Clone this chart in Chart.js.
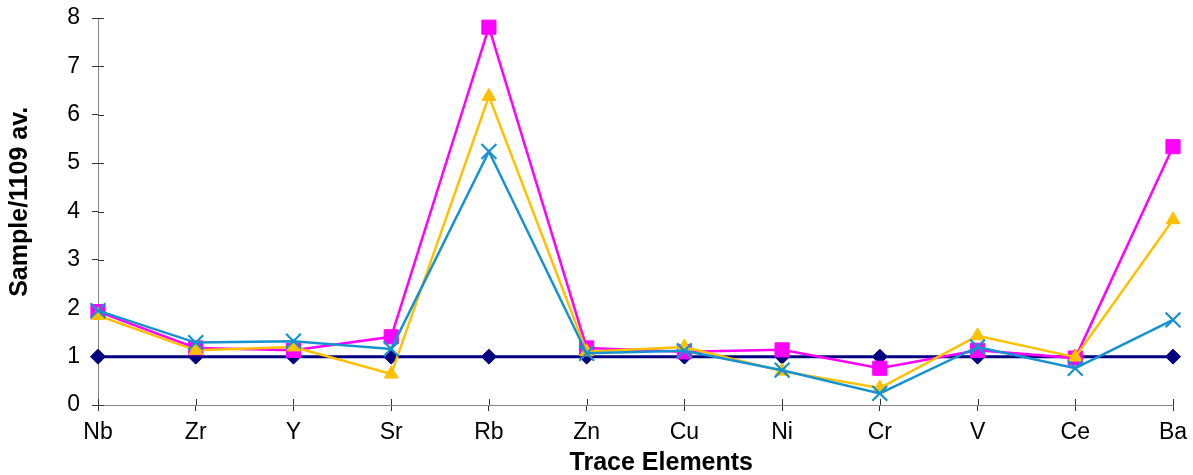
<!DOCTYPE html>
<html>
<head>
<meta charset="utf-8">
<style>
  html, body { margin: 0; padding: 0; background: #fff; }
  #wrap { width: 1193px; height: 475px; }
</style>
<script src="https://cdn.jsdelivr.net/npm/chart.js@4/dist/chart.umd.min.js"></script>
</head>
<body>
<div id="wrap"><canvas id="c" width="1193" height="475"></canvas></div>
<script>
// Trace elements on the category axis
const elements = ['Nb', 'Zr', 'Y', 'Sr', 'Rb', 'Zn', 'Cu', 'Ni', 'Cr', 'V', 'Ce', 'Ba'];

// Normalised concentrations (sample / 1109 average)
const reference1109 = [1, 1, 1, 1, 1, 1, 1, 1, 1, 1, 1, 1];
const sampleA = [1.93, 1.18, 1.13, 1.41, 7.81, 1.18, 1.1, 1.14, 0.76, 1.13, 0.97, 5.34];
const sampleB = [1.85, 1.13, 1.2, 0.64, 6.38, 1.1, 1.2, 0.7, 0.35, 1.43, 0.99, 3.83];
const sampleC = [1.95, 1.29, 1.32, 1.16, 5.24, 1.07, 1.12, 0.72, 0.24, 1.2, 0.76, 1.76];

const yTicks = [0, 1, 2, 3, 4, 5, 6, 7, 8];

const xTitle = 'Trace Elements';
const yTitle = 'Sample/1109 av.';

const FONT = "'Liberation Sans', Arial, sans-serif";

// Tick marks that cross the axis line: Chart.js draws the outer half,
// this draws the half that reaches into the plot area.
const innerTicks = {
  id: 'innerTicks',
  beforeDatasetsDraw(chart) {
    const { ctx, chartArea, scales } = chart;
    const len = 6;
    ctx.save();
    ctx.strokeStyle = '#333';
    ctx.lineWidth = 1;
    ctx.beginPath();
    scales.x.ticks.forEach((t, i) => {
      const px = Math.round(scales.x.getPixelForTick(i)) + 0.5;
      ctx.moveTo(px, chartArea.bottom);
      ctx.lineTo(px, chartArea.bottom - len);
    });
    scales.y.ticks.forEach((t, i) => {
      const py = Math.round(scales.y.getPixelForTick(i)) + 0.5;
      ctx.moveTo(chartArea.left, py);
      ctx.lineTo(chartArea.left + len, py);
    });
    ctx.stroke();
    ctx.restore();
  }
};

// Axis titles, placed a little off the plot centre
const axisTitles = {
  id: 'axisTitles',
  afterDraw(chart) {
    const { ctx, chartArea } = chart;
    ctx.save();
    ctx.fillStyle = '#000';
    ctx.font = 'bold 25px ' + FONT;
    ctx.textAlign = 'center';
    ctx.textBaseline = 'middle';
    const w = chartArea.right - chartArea.left;
    const h = chartArea.bottom - chartArea.top;
    ctx.fillText(xTitle, chartArea.left + w * 0.524, chart.height - 12);
    ctx.translate(20, chartArea.top + h * 0.475);
    ctx.rotate(-Math.PI / 2);
    ctx.fillText(yTitle, 0, 0);
    ctx.restore();
  }
};

function series(data, color, style, radius, order, width) {
  return {
    data,
    borderColor: color,
    backgroundColor: color,
    pointBackgroundColor: color,
    pointBorderColor: color,
    pointStyle: style,
    pointRadius: radius,
    pointHoverRadius: radius,
    pointBorderWidth: style === 'crossRot' ? 2.2 : 1,
    borderWidth: width,
    tension: 0,
    fill: false,
    order
  };
}

new Chart(document.getElementById('c'), {
  type: 'line',
  data: {
    labels: elements,
    datasets: [
      series(reference1109, '#000080', 'rectRot', 7.5, 3, 3),
      series(sampleA, '#FF00FF', 'rect', 10, 2, 2.5),
      series(sampleB, '#FFC000', 'triangle', 8, 1, 2.5),
      series(sampleC, '#1592D0', 'crossRot', 10.5, 0, 2.5)
    ]
  },
  options: {
    responsive: false,
    animation: false,
    events: [],
    layout: { padding: { top: 18, right: 20, left: 0, bottom: 0 } },
    plugins: {
      legend: { display: false },
      tooltip: { enabled: false }
    },
    scales: {
      x: {
        offset: false,
        afterFit(scale) {
          scale.height = 70;
          scale.paddingLeft = 0;
          scale.paddingRight = 0;
        },
        grid: {
          display: true,
          drawOnChartArea: false,
          drawTicks: true,
          tickLength: 6,
          color: '#333'
        },
        border: { display: true, color: '#888', width: 1 },
        ticks: {
          color: '#000',
          font: { family: FONT, size: 23 },
          padding: 8,
          maxRotation: 0,
          autoSkip: false
        },
        title: { display: false, text: xTitle }
      },
      y: {
        min: 0,
        max: 8,
        afterFit(scale) {
          scale.width = 98;
          scale.paddingTop = 0;
          scale.paddingBottom = 0;
        },
        afterBuildTicks(scale) { scale.ticks = yTicks.map(v => ({ value: v })); },
        grid: {
          display: true,
          drawOnChartArea: false,
          drawTicks: true,
          tickLength: 6,
          color: '#333'
        },
        border: { display: true, color: '#888', width: 1 },
        ticks: {
          color: '#000',
          font: { family: FONT, size: 23 },
          padding: 12
        },
        title: { display: false, text: yTitle }
      }
    }
  },
  plugins: [innerTicks, axisTitles]
});
</script>
</body>
</html>
